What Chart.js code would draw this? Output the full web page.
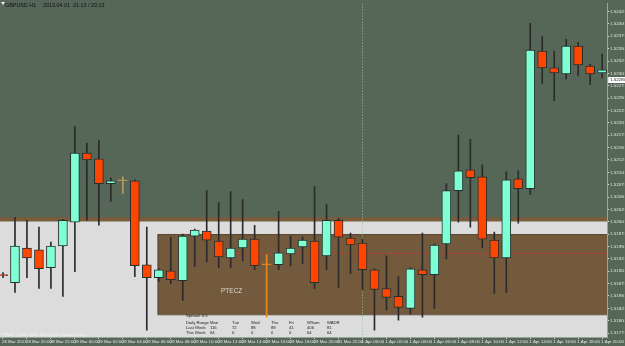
<!DOCTYPE html>
<html>
<head>
<meta charset="utf-8">
<script src="https://cdn.jsdelivr.net/npm/chart.js@4.4.1/dist/chart.umd.min.js"></script>
<style>
  html, body { margin: 0; padding: 0; background: #566758; }
  #wrap { width: 625px; height: 346px; }
</style>
</head>
<body>
<div id="wrap"><canvas id="myChart" width="625" height="346"></canvas></div>
<script>
// GBPUSD H1, one candle per hour, 28 Mar 18:00 .. 1 Apr 20:00
const open = [1.51893, 1.51877, 1.51947, 1.51943, 1.51907, 1.51951, 1.51999, 1.52139, 1.52127, 1.52077,
	1.52083, 1.52083, 1.51913, 1.51887, 1.51901, 1.51881, 1.51971, 1.51981, 1.51961, 1.51927,
	1.51947, 1.51965, 1.51913, 1.51913, 1.51935, 1.51949, 1.51961, 1.51931, 1.52003, 1.51967,
	1.51957, 1.51903, 1.51865, 1.51849, 1.51825, 1.51903, 1.51893, 1.51955, 1.52063, 1.52105,
	1.52091, 1.51963, 1.51927, 1.52087, 1.52067, 1.52345, 1.52311, 1.52299, 1.52355, 1.52315, 1.52301]
const high = [1.51897, 1.52009, 1.52003, 1.51989, 1.51959, 1.52005, 1.52193, 1.52159, 1.52165, 1.52089,
	1.52091, 1.52085, 1.51989, 1.51905, 1.51969, 1.51975, 1.51985, 1.52063, 1.52039, 1.52061,
	1.52045, 1.51993, 1.51933, 1.52021, 1.51971, 1.51969, 1.52071, 1.52035, 1.52007, 1.51977,
	1.51965, 1.51905, 1.51931, 1.51889, 1.51907, 1.51977, 1.51955, 1.52077, 1.52175, 1.52167,
	1.52115, 1.51979, 1.52101, 1.52103, 1.52401, 1.52375, 1.52345, 1.52369, 1.52363, 1.52319, 1.52339]
const low = [1.51887, 1.51857, 1.51887, 1.51865, 1.51865, 1.51849, 1.51899, 1.52003, 1.51993, 1.52041,
	1.52057, 1.51889, 1.51781, 1.51879, 1.51875, 1.51841, 1.51909, 1.51919, 1.51907, 1.51907,
	1.51921, 1.51903, 1.51807, 1.51903, 1.51911, 1.51915, 1.51865, 1.51903, 1.51867, 1.51895,
	1.51863, 1.51781, 1.51821, 1.51801, 1.51813, 1.51807, 1.51825, 1.51925, 1.51999, 1.51989,
	1.51947, 1.51855, 1.51857, 1.51997, 1.52055, 1.52279, 1.52245, 1.52289, 1.52295, 1.52277, 1.52291]
const close = [1.51891, 1.51951, 1.51927, 1.51905, 1.51951, 1.52003, 1.52139, 1.52125, 1.52077, 1.52083,
	1.52083, 1.51911, 1.51887, 1.51903, 1.51883, 1.51971, 1.51983, 1.51963, 1.51929, 1.51947,
	1.51965, 1.51911, 1.51913, 1.51937, 1.51947, 1.51963, 1.51877, 1.52003, 1.51969, 1.51953,
	1.51903, 1.51863, 1.51847, 1.51827, 1.51905, 1.51893, 1.51953, 1.52063, 1.52103, 1.52089,
	1.51965, 1.51927, 1.52085, 1.52067, 1.52347, 1.52311, 1.52301, 1.52355, 1.52317, 1.52299, 1.52307]

// time axis labels, every 2nd bar
const timeTickIndex = [0, 2, 4, 6, 8, 10, 12, 14, 16, 18, 20, 22, 24, 26, 28, 30, 32, 34, 36, 38, 40, 42, 44, 46, 48, 50]
const timeTickLabels = ['28 Mar 2013', '28 Mar 20:00', '28 Mar 22:00', '29 Mar 00:00', '29 Mar 02:00', '29 Mar 04:00',
	'29 Mar 06:00', '29 Mar 08:00', '29 Mar 10:00', '29 Mar 12:00', '29 Mar 14:00', '29 Mar 16:00', '29 Mar 18:00',
	'29 Mar 20:00', '31 Mar 22:00', '1 Apr 00:00', '1 Apr 02:00', '1 Apr 04:00', '1 Apr 06:00', '1 Apr 08:00',
	'1 Apr 10:00', '1 Apr 12:00', '1 Apr 14:00', '1 Apr 16:00', '1 Apr 18:00', '1 Apr 20:00']

// price axis labels
const priceTicks = [1.52425, 1.52400, 1.52375, 1.52350, 1.52325, 1.52300, 1.52275, 1.52250, 1.52225,
	1.52200, 1.52175, 1.52150, 1.52125, 1.52100, 1.52075, 1.52050, 1.52025, 1.52000, 1.51975,
	1.51950, 1.51925, 1.51900, 1.51875, 1.51850, 1.51825, 1.51800, 1.51775]

// drawn objects on the chart (prices / bar index)
const bandPrices = [1.52009, 1.52001]        // brown edge above the grey zone
const greyZoneTop = 1.52001
const boxZone = [12.9, 1.51975, 1.51813]     // from bar, top, bottom
const dashedLevel = [19.3, 1.51937]          // from bar, price
const daySeparator = 30
const bidPrice = 1.52287

// daily range table
const rangeHeader = ['Daily Range', 'Mon', 'Tue', 'Wed', 'Thu', 'Fri', 'WSum', 'WADR']
const lastWeek = ['Last Week', '116', '72', '88', '89', '41', '406', '81']
const thisWeek = ['This Week', '64', '0', '0', '0', '0', '64', '64']

const bullColor = '#7fffd4'
const bearColor = '#ff4500'
const FONT = 'Liberation Sans'

const bodyColors = open.map((o, i) => {
	if (o === close[i]) return i === 22 ? '#e8891c' : '#b79a62'
	return close[i] > o ? bullColor : bearColor
})
const bodyBorders = open.map((o, i) => (o === close[i] ? bodyColors[i] : '#23302d'))
const wickColors = open.map((o, i) => (o === close[i] ? bodyColors[i] : '#2b2b2b'))

const mt4Plugin = {
	id: 'mt4',
	beforeDraw(chart) {
		const { ctx, chartArea: a, scales: { x, y } } = chart
		ctx.save()
		ctx.fillStyle = '#566758'
		ctx.fillRect(0, 0, chart.width, chart.height)
		ctx.beginPath()
		ctx.rect(a.left, a.top, a.width, a.height)
		ctx.clip()
		// grey zone
		const gTop = y.getPixelForValue(greyZoneTop)
		ctx.fillStyle = '#dcdcdc'
		ctx.fillRect(a.left, gTop, a.width, a.bottom - gTop)
		// brown edge
		const b0 = y.getPixelForValue(bandPrices[0])
		const b1 = y.getPixelForValue(bandPrices[1])
		ctx.fillStyle = '#7a5c3a'
		ctx.fillRect(a.left, b0, a.width, b1 - b0)
		// brown box
		const bx = x.getPixelForValue(boxZone[0])
		const by0 = y.getPixelForValue(boxZone[1])
		const by1 = y.getPixelForValue(boxZone[2])
		ctx.fillStyle = '#745a3d'
		ctx.fillRect(bx, by0, a.right - bx, by1 - by0)
		ctx.strokeStyle = '#5a4531'
		ctx.lineWidth = 1
		ctx.strokeRect(bx + 0.5, by0 + 0.5, a.right - bx, by1 - by0)
		// dashed level
		const dl = y.getPixelForValue(dashedLevel[1])
		ctx.strokeStyle = '#b8402a'
		ctx.setLineDash([5, 3])
		ctx.beginPath()
		ctx.moveTo(x.getPixelForValue(dashedLevel[0]), Math.round(dl) + 0.5)
		ctx.lineTo(a.right, Math.round(dl) + 0.5)
		ctx.stroke()
		// period separator
		const sx = Math.round(x.getPixelForValue(daySeparator)) + 0.5
		ctx.strokeStyle = '#8fc48f'
		ctx.setLineDash([1, 2])
		ctx.beginPath()
		ctx.moveTo(sx, a.top)
		ctx.lineTo(sx, a.bottom)
		ctx.stroke()
		ctx.restore()
	},
	afterDraw(chart) {
		const { ctx, chartArea: a, scales: { x, y } } = chart
		ctx.save()
		ctx.textBaseline = 'middle'
		// title
		ctx.fillStyle = '#f0f0f0'
		ctx.beginPath()
		ctx.moveTo(1, 2); ctx.lineTo(5, 2); ctx.lineTo(3, 5); ctx.closePath(); ctx.fill()
		ctx.fillStyle = '#111'
		ctx.font = `5.4px "${FONT}"`
		ctx.fillText('GBPUSD H1', 5, 6)
		ctx.fillText('2013.04.01', 43, 6)
		ctx.fillText('21:13 / 23:13', 73, 6)
		// zone name
		ctx.fillStyle = '#d9d9d9'
		ctx.font = `6.5px "${FONT}"`
		ctx.fillText('PTECZ', 221, 291)
		// range table
		ctx.fillStyle = '#1a1a1a'
		ctx.font = `4.2px "${FONT}"`
		ctx.fillText('Spread: 0.5', 186, 316)
		const cols = [186, 210, 232, 251, 271, 289, 307, 327]
		;[rangeHeader, lastWeek, thisWeek].forEach((row, r) => {
			row.forEach((t, c) => ctx.fillText(t, cols[c], 323 + r * 4.8))
		})
		// copyright
		ctx.fillStyle = '#f2f2f2'
		ctx.font = `3.8px "${FONT}"`
		ctx.fillText('PIRAT, \u00a9 2001-2013, MetaQuotes Software Corp.', 3, 335)
		// bid label on price axis
		const py = Math.round(y.getPixelForValue(bidPrice))
		ctx.fillStyle = '#ffffff'
		ctx.fillRect(a.right + 1, py - 3, chart.width - a.right - 1, 6)
		ctx.fillStyle = '#111'
		ctx.font = `4.4px "${FONT}"`
		ctx.fillText(bidPrice.toFixed(5), a.right + 3, py)
		ctx.restore()
	}
}

const candleIndex = open.map((o, i) => i)

const myChart = new Chart(document.querySelector('#myChart').getContext('2d'), {
	type: 'bar',
	data: {
		datasets: [
			{
				label: 'wick',
				data: candleIndex.map(i => ({ x: i, y: [low[i], high[i]] })),
				backgroundColor: wickColors,
				barThickness: 1,
				grouped: false,
				order: 2
			},
			{
				label: 'body',
				data: candleIndex.map(i => ({ x: i, y: [open[i], close[i]] })),
				backgroundColor: bodyColors,
				borderColor: bodyBorders,
				borderWidth: 1,
				borderSkipped: false,
				barThickness: 9,
				minBarLength: 1,
				grouped: false,
				order: 1
			}
		]
	},
	options: {
		responsive: false,
		devicePixelRatio: 1,
		animation: false,
		layout: { padding: 0 },
		plugins: { legend: { display: false }, tooltip: { enabled: false } },
		scales: {
			x: {
				type: 'linear',
				min: -0.25,
				max: 50.42,
				offset: false,
				afterBuildTicks: scale => {
					scale.ticks = timeTickIndex.map(v => ({ value: v }))
				},
				afterFit: scale => { scale.height = 9 },
				ticks: {
					autoSkip: false,
					maxRotation: 0,
					align: 'start',
					labelOffset: -1,
					padding: 0,
					color: '#e6e6e6',
					font: { family: FONT, size: 4.4 },
					callback: v => timeTickLabels[timeTickIndex.indexOf(v)]
				},
				grid: { drawOnChartArea: false, tickLength: 2, color: '#cfd6cf', offset: false },
				border: { color: '#9aa59b' }
			},
			y: {
				position: 'right',
				min: 1.51767,
				max: 1.52441,
				afterBuildTicks: scale => {
					scale.ticks = priceTicks.map(v => ({ value: v }))
				},
				afterFit: scale => { scale.width = 17 },
				ticks: {
					padding: 1,
					color: '#e6e6e6',
					font: { family: FONT, size: 4.4 },
					callback: v => v.toFixed(5)
				},
				grid: { drawOnChartArea: false, tickLength: 2, color: '#cfd6cf' },
				border: { color: '#9aa59b' }
			}
		}
	},
	plugins: [mt4Plugin]
})
</script>
</body>
</html>
